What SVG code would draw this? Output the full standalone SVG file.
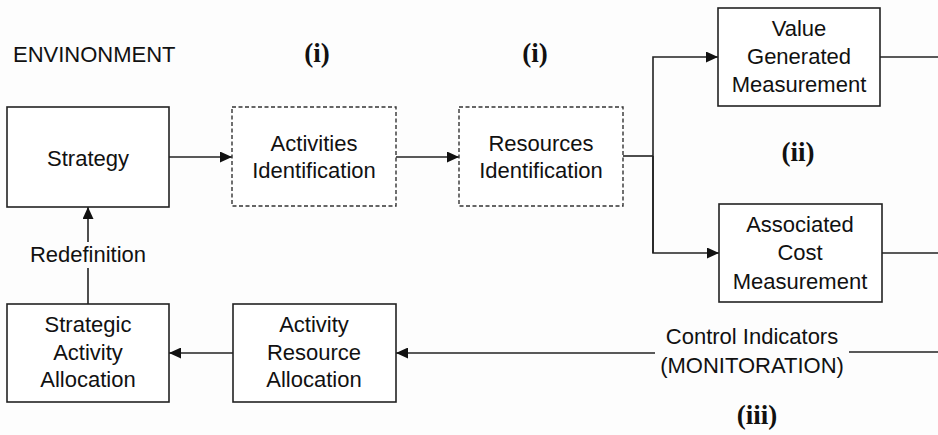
<svg xmlns="http://www.w3.org/2000/svg" width="938" height="435" viewBox="0 0 938 435">
  <defs>
    <marker id="arrow" markerWidth="12" markerHeight="11" refX="12" refY="5.5" orient="auto" markerUnits="userSpaceOnUse">
      <path d="M0,0 L12,5.5 L0,11 Z" fill="#111"/>
    </marker>
    <style>
      .box { fill: #fff; stroke: #222; stroke-width: 1.6; }
      .dash { fill: #fff; stroke: #333; stroke-width: 1.4; stroke-dasharray: 4 2.5; }
      .lbl { font-family: "Liberation Sans", Arial, sans-serif; font-size: 22px; fill: #111; text-anchor: middle; }
      .tag { font-family: "Liberation Serif", "Times New Roman", serif; font-size: 27px; font-weight: bold; fill: #111; text-anchor: middle; }
      .wire { fill: none; stroke: #222; stroke-width: 1.6; }
    </style>
  </defs>
  <rect width="938" height="435" fill="#fdfdfd"/>

  <text x="13" y="62" class="lbl" style="text-anchor:start">ENVINONMENT</text>
  <text x="317" y="62" class="tag">(i)</text>
  <text x="535" y="62" class="tag">(i)</text>
  <text x="798" y="161" class="tag">(ii)</text>
  <text x="757" y="424" class="tag">(iii)</text>

  <g id="connectors">
    <line class="wire" x1="169" y1="157" x2="232" y2="157" marker-end="url(#arrow)"/>
    <line class="wire" x1="396" y1="157" x2="459" y2="157" marker-end="url(#arrow)"/>
    <polyline class="wire" points="623,156 653,156"/>
    <polyline class="wire" points="653,253 653,57 718,57" marker-end="url(#arrow)"/>
    <polyline class="wire" points="653,156 653,253 719,253" marker-end="url(#arrow)"/>
    <line class="wire" x1="880" y1="57" x2="938" y2="57"/>
    <line class="wire" x1="882" y1="253" x2="938" y2="253"/>
    <line class="wire" x1="938" y1="352" x2="849" y2="352"/>
    <line class="wire" x1="655" y1="353" x2="396" y2="353" marker-end="url(#arrow)"/>
    <line class="wire" x1="233" y1="353" x2="169" y2="353" marker-end="url(#arrow)"/>
    <line class="wire" x1="88" y1="304" x2="88" y2="268"/>
    <line class="wire" x1="88" y1="242" x2="88" y2="207" marker-end="url(#arrow)"/>
    <text x="88" y="262" class="lbl">Redefinition</text>
    <text x="752" y="344" class="lbl">Control Indicators</text>
    <text x="752" y="373" class="lbl">(MONITORATION)</text>
  </g>

  <g id="strategy">
    <rect class="box" x="7" y="107" width="162" height="100"/>
    <text x="88" y="166" class="lbl">Strategy</text>
  </g>
  <g id="activities-identification">
    <rect class="dash" x="232" y="107" width="164" height="99"/>
    <text x="314" y="151" class="lbl">Activities</text>
    <text x="314" y="178" class="lbl">Identification</text>
  </g>
  <g id="resources-identification">
    <rect class="dash" x="459" y="107" width="164" height="99"/>
    <text x="541" y="151" class="lbl">Resources</text>
    <text x="541" y="178" class="lbl">Identification</text>
  </g>
  <g id="value-generated">
    <rect class="box" x="718" y="8" width="162" height="98"/>
    <text x="799" y="36" class="lbl">Value</text>
    <text x="799" y="64" class="lbl">Generated</text>
    <text x="799" y="92" class="lbl">Measurement</text>
  </g>
  <g id="associated-cost">
    <rect class="box" x="719" y="204" width="163" height="98"/>
    <text x="800" y="232" class="lbl">Associated</text>
    <text x="800" y="260" class="lbl">Cost</text>
    <text x="800" y="289" class="lbl">Measurement</text>
  </g>
  <g id="activity-resource-allocation">
    <rect class="box" x="233" y="304" width="163" height="98"/>
    <text x="314" y="332" class="lbl">Activity</text>
    <text x="314" y="360" class="lbl">Resource</text>
    <text x="314" y="387" class="lbl">Allocation</text>
  </g>
  <g id="strategic-activity-allocation">
    <rect class="box" x="7" y="304" width="162" height="98"/>
    <text x="88" y="332" class="lbl">Strategic</text>
    <text x="88" y="360" class="lbl">Activity</text>
    <text x="88" y="387" class="lbl">Allocation</text>
  </g>
</svg>
